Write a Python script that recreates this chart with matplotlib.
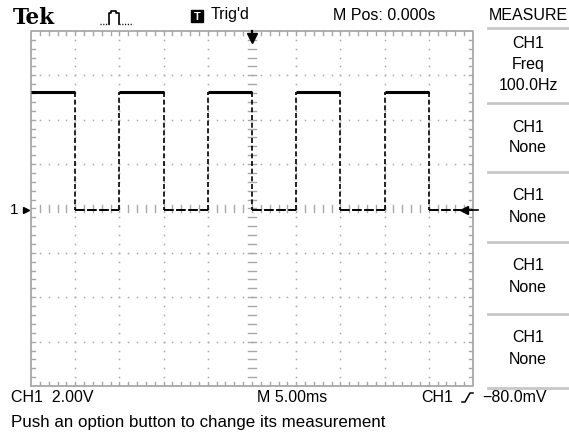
import numpy as np
import matplotlib.pyplot as plt

W, H = 569, 437

# square wave: edge times (ms) and level between each pair of edges (V)
edge_t = [-25, -20, -15, -10, -5, 0, 5, 10, 15, 20, 25]
level_v = [5.25, -0.07, 5.25, -0.07, 5.25, -0.07, 5.25, -0.07, 5.25, -0.07]
trig_level = -0.08   # V
ground = -0.07       # V, channel 1 marker

# measure menu
menu_boxes = [("CH1", "None"), ("CH1", "None"), ("CH1", "None"), ("CH1", "None")]

plt.rcParams['font.family'] = ['Liberation Sans', 'DejaVu Sans']
fs, fs_status = 11.5, 12.2

fig = plt.figure(figsize=(W / 100, H / 100), dpi=100)
fig.patch.set_facecolor('white')

# graticule area: x 31..473, y 31..386 in pixels
ax = fig.add_axes([31 / W, 1 - 386 / H, 442 / W, 355 / H])
ax.set_xlim(-25, 25)
ax.set_ylim(-8, 8)
ax.axis('off')

gc = '#a8a8a8'
# border
ax.plot([-25, 25, 25, -25, -25], [-8, -8, 8, 8, -8], color=gc, lw=1.3, clip_on=False)
# dotted grid at each minor step
xs_minor = np.arange(-25, 25.01, 1.0)
ys_minor = np.arange(-8, 8.01, 0.4)
for xv in [-20, -15, -10, -5, 5, 10, 15, 20]:
    ax.plot(np.full(len(ys_minor), xv), ys_minor, ls='none', marker='s', ms=1.1,
            mec='none', mfc=gc)
for yv in [-6, -4, -2, 2, 4, 6]:
    ax.plot(xs_minor, np.full(len(xs_minor), yv), ls='none', marker='s', ms=1.1,
            mec='none', mfc=gc)
# border and centre tick marks
tx, ty = 0.45, 0.16
for xv in xs_minor[1:-1]:
    ax.plot([xv, xv], [8, 8 - ty], color=gc, lw=1.0)
    ax.plot([xv, xv], [-8, -8 + ty], color=gc, lw=1.0)
    ax.plot([xv, xv], [-ty, ty], color=gc, lw=1.0)
for yv in ys_minor[1:-1]:
    ax.plot([-25, -25 + tx], [yv, yv], color=gc, lw=1.0)
    ax.plot([25, 25 - tx], [yv, yv], color=gc, lw=1.0)
    ax.plot([-tx, tx], [yv, yv], color=gc, lw=1.0)

# trace
for i, lv in enumerate(level_v):
    t0, t1 = edge_t[i], edge_t[i + 1]
    if lv > 1:
        ax.plot([t0, t1], [lv, lv], color='black', lw=2.2, solid_capstyle='butt')
    else:
        ax.plot([t0, t1], [lv, lv], color='black', lw=1.4, dashes=(5, 1.2))
for i in range(1, len(edge_t) - 1):
    ax.plot([edge_t[i]] * 2, [level_v[i - 1], level_v[i]], color='black', lw=1.2,
            dashes=(3, 1.6))

# trigger position and level markers
ax.plot([0], [7.7], marker='v', ms=6.5, color='black', clip_on=False)
ax.plot([0, 0], [7.7, 8.0], color='black', lw=1.6, clip_on=False)
ax.plot([24.0], [trig_level], marker='<', ms=6, color='black', clip_on=False)
ax.plot([24.0, 25.6], [trig_level, trig_level], color='black', lw=1.2, clip_on=False)
ax.plot([-25.6], [ground], marker='>', ms=4, color='black', clip_on=False)
ax.text(-26.4, ground, '1', ha='right', va='center', fontsize=fs - 0.5)

# overlay in pixel coordinates for the surrounding screen furniture
ov = fig.add_axes([0, 0, 1, 1])
ov.set_xlim(0, W)
ov.set_ylim(H, 0)
ov.axis('off')
ov.patch.set_alpha(0)

ov.text(13, 17.5, 'Tek', fontsize=15.5, fontweight='bold', family='DejaVu Serif',
        va='center', ha='left')
# acquisition icon
ov.plot([100, 109], [24, 24], color='black', lw=1.0, dashes=(0.8, 1.2))
ov.plot([109, 109, 111, 111, 116, 116, 119, 119], [24, 13, 13, 11, 11, 13, 13, 24],
        color='black', lw=1.2)
ov.plot([119, 133], [24, 24], color='black', lw=1.0, dashes=(0.8, 1.2))
# trigger badge
ov.add_patch(plt.Rectangle((191, 10), 12, 12, color='black'))
ov.text(197, 16.5, 'T', color='white', fontsize=8, fontweight='bold', ha='center',
        va='center')
ov.text(211, 15, "Trig'd", fontsize=fs, va='center', ha='left')
ov.text(333, 15, 'M Pos: 0.000s', fontsize=fs, va='center', ha='left')
ov.text(528, 15, 'MEASURE', fontsize=fs, va='center', ha='center')

# menu
mc = '#c8c8c8'
dividers = [28, 103, 172, 242, 314, 388]
for d in dividers:
    ov.plot([488, W], [d, d], color=mc, lw=2)
ov.text(528, 44, 'CH1', fontsize=fs, va='center', ha='center')
ov.text(528, 64, 'Freq', fontsize=fs, va='center', ha='center')
ov.text(528, 85, '100.0Hz', fontsize=fs, va='center', ha='center')
for d, (a, b) in zip(dividers[1:], menu_boxes):
    ov.text(528, d + 24, a, fontsize=fs, va='center', ha='center')
    ov.text(528, d + 45, b, fontsize=fs, va='center', ha='center')

# status line
ov.text(11, 397, 'CH1  2.00V', fontsize=fs, va='center', ha='left')
ov.text(257, 397, 'M 5.00ms', fontsize=fs, va='center', ha='left')
ov.text(421, 397, 'CH1', fontsize=fs, va='center', ha='left')
ov.plot([462, 465, 470, 473], [402, 402, 393, 393], color='black', lw=1.1)
ov.text(547, 397, '\u221280.0mV', fontsize=fs, va='center', ha='right')
ov.text(11, 423, 'Push an option button to change its measurement', fontsize=fs_status,
        va='center', ha='left')

fig.savefig('out.png', dpi=100)
